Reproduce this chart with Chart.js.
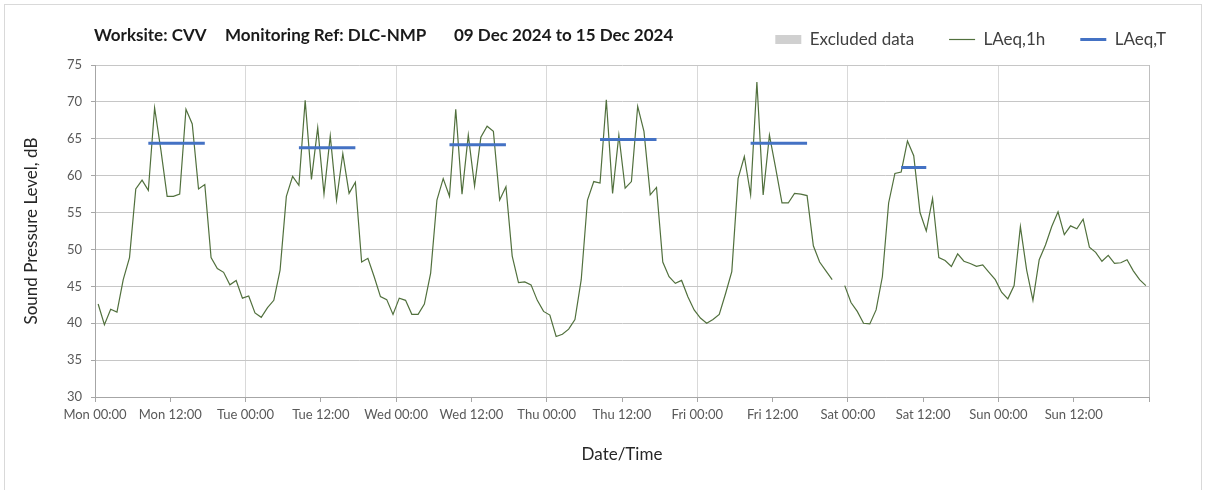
<!DOCTYPE html>
<html>
<head>
<meta charset="utf-8">
<title>Noise monitoring CVV</title>
<script src="https://cdn.jsdelivr.net/npm/chart.js@4"></script>
<style>
  html, body { margin: 0; padding: 0; background: #fff; }
  #wrap { position: relative; width: 1208px; height: 490px; overflow: hidden; font-family: Lato, sans-serif; }
  #noiseChart { position: absolute; left: 0; top: 0; }
  #frame { position: absolute; left: 4px; top: 4px; width: 1196px; height: 500px; border: 1px solid #d9d9d9; pointer-events: none; }
  #chart-title { position: absolute; left: 0; top: 25px; height: 20px; font-size: 17px; font-weight: bold; line-height: 20px; color: #1a1a1a; white-space: nowrap; }
  #chart-title span { position: absolute; top: 0; }
</style>
</head>
<body>
<div id="wrap">
  <canvas id="noiseChart" width="1208" height="490"></canvas>
  <div id="frame"></div>
  <div id="chart-title">
    <span style="left:94px">Worksite: CVV</span>
    <span style="left:225px">Monitoring Ref: DLC-NMP</span>
    <span style="left:454px">09 Dec 2024 to 15 Dec 2024</span>
  </div>
</div>
<script>
const dayLabels = ['Mon', 'Tue', 'Wed', 'Thu', 'Fri', 'Sat', 'Sun'];

// LAeq,1h readings, one value per hour 00:00 - 23:00
const mon = [42.6, 39.8, 41.9, 41.5, 45.9, 48.9, 58.2, 59.4, 58.0, 69.2, 63.5, 57.2,
             57.2, 57.5, 69.0, 67.0, 58.2, 58.8, 48.9, 47.4, 46.9, 45.2, 45.8, 43.4];
const tue = [43.7, 41.4, 40.8, 42.1, 43.1, 47.2, 57.2, 59.9, 58.7, 70.2, 59.5, 66.5,
             57.5, 65.4, 56.7, 63.0, 57.6, 59.1, 48.3, 48.8, 46.3, 43.6, 43.2, 41.2];
const wed = [43.4, 43.1, 41.2, 41.2, 42.6, 46.8, 56.7, 59.6, 57.2, 69.0, 57.5, 65.5,
             58.6, 65.2, 66.7, 66.0, 56.7, 58.5, 49.1, 45.5, 45.6, 45.2, 43.1, 41.6];
const thu = [41.1, 38.2, 38.5, 39.2, 40.5, 45.9, 56.7, 59.2, 59.0, 70.3, 57.6, 65.5,
             58.3, 59.2, 69.4, 66.0, 57.4, 58.4, 48.3, 46.3, 45.4, 45.8, 43.6, 41.8];
const fri = [40.7, 40.0, 40.5, 41.2, 44.0, 47.0, 59.6, 62.6, 57.4, 72.7, 57.4, 65.5,
             61.0, 56.3, 56.3, 57.6, 57.5, 57.3, 50.5, 48.3, 47.1, 45.9, null, 45.1];
const sat = [42.8, 41.6, 40.0, 39.9, 41.8, 46.3, 56.3, 60.3, 60.5, 64.7, 62.7, 55.0,
             52.5, 56.9, 48.9, 48.5, 47.7, 49.4, 48.4, 48.1, 47.7, 47.9, 46.9, 45.9];
const sun = [44.2, 43.3, 45.1, 53.1, 47.2, 43.1, 48.6, 50.6, 53.1, 55.1, 52.0, 53.2,
             52.8, 54.1, 50.3, 49.6, 48.4, 49.2, 48.1, 48.2, 48.6, 47.1, 45.9, 45.1];

// LAeq,T over each daytime period (hour index from Mon 00:00)
const periodStart = [8, 32, 56, 80, 104, 128];
const periodEnd = [17, 41, 65, 89, 113, 132];
const periodLevel = [64.4, 63.8, 64.2, 64.9, 64.4, 61.1];

const hourly = [].concat(mon, tue, wed, thu, fri, sat, sun);
const hourlyPoints = hourly.map((v, i) => ({ x: i + 0.5, y: v }));

const periodPoints = [];
periodStart.forEach((s, k) => {
  periodPoints.push({ x: s + 0.5, y: periodLevel[k] });
  periodPoints.push({ x: periodEnd[k] + 0.5, y: periodLevel[k] });
  periodPoints.push({ x: periodEnd[k] + 1, y: null });
});

// keep the legend row short so the plot starts right under it
const legendHeight = {
  id: 'legendHeight',
  afterInit(chart) {
    const legend = chart.legend;
    const fit = legend.fit;
    legend.fit = function() {
      fit.call(this);
      this.height = 69;
    };
  }
};

const ctx = document.getElementById('noiseChart').getContext('2d');
const noiseChart = new Chart(ctx, {
  type: 'line',
  data: {
    datasets: [{
      label: 'Excluded data',
      data: [],
      backgroundColor: '#d0d0d0',
      borderColor: '#d0d0d0',
      legendStyle: 'rect',
      legendWidth: 0,
      order: 2
    }, {
      label: 'LAeq,1h',
      data: hourlyPoints,
      borderColor: '#51703d',
      borderWidth: 1.2,
      pointRadius: 0,
      legendStyle: 'line',
      legendWidth: 1.2,
      order: 1
    }, {
      label: 'LAeq,T',
      data: periodPoints,
      borderColor: '#4472c4',
      borderWidth: 3,
      pointRadius: 0,
      legendStyle: 'line',
      legendWidth: 3,
      order: 0
    }]
  },
  options: {
    responsive: false,
    animation: false,
    events: [],
    spanGaps: false,
    layout: {
      padding: { left: 10, right: 7, top: -4, bottom: 15 }
    },
    scales: {
      x: {
        type: 'linear',
        min: 0,
        max: 168,
        ticks: {
          stepSize: 12,
          autoSkip: false,
          maxRotation: 0,
          padding: 5,
          color: '#595959',
          font: { family: 'Lato', size: 13 },
          callback: v => v >= 168 ? '' : dayLabels[Math.floor(v / 24)] + (v % 24 === 0 ? ' 00:00' : ' 12:00')
        },
        grid: {
          color: c => {
            if (!c.tick) return 'rgba(0,0,0,0)';
            if (c.tick.value === 168) return '#bfbfbf';
            return c.tick.value % 24 === 0 ? '#d9d9d9' : 'rgba(0,0,0,0)';
          },
          tickColor: '#a6a6a6',
          tickLength: 5
        },
        border: { color: '#a6a6a6' },
        title: {
          display: true,
          text: 'Date/Time',
          color: '#262626',
          font: { family: 'Lato', size: 17 },
          padding: { top: 4, bottom: 10 }
        },
        afterFit: s => { s.height = 78; }
      },
      y: {
        min: 30,
        max: 75,
        ticks: {
          stepSize: 5,
          padding: 9,
          color: '#595959',
          font: { family: 'Lato', size: 13 }
        },
        grid: { color: '#c6c6c6', tickColor: '#a6a6a6', tickLength: 4 },
        border: { color: '#a6a6a6' },
        title: {
          display: true,
          text: 'Sound Pressure Level, dB',
          color: '#262626',
          font: { family: 'Lato', size: 17 },
          padding: { top: 11, bottom: 4 }
        },
        afterFit: s => { s.width = 85; }
      },
      y2: {
        position: 'right',
        grid: { display: false },
        ticks: { display: false },
        border: { display: false },
        afterFit: s => { s.width = 52; }
      }
    },
    plugins: {
      tooltip: { enabled: false },
      legend: {
        position: 'top',
        align: 'end',
        labels: {
          usePointStyle: true,
          pointStyleWidth: 26,
          boxHeight: 9,
          padding: 35,
          color: '#404040',
          font: { family: 'Lato', size: 17 },
          generateLabels: chart => chart.data.datasets.map((ds, i) => ({
            text: ds.label,
            fillStyle: ds.backgroundColor || ds.borderColor,
            strokeStyle: ds.borderColor,
            lineWidth: ds.legendWidth,
            pointStyle: ds.legendStyle,
            fontColor: '#404040',
            hidden: false,
            datasetIndex: i
          }))
        }
      }
    }
  },
  plugins: [legendHeight]
});
</script>
</body>
</html>
